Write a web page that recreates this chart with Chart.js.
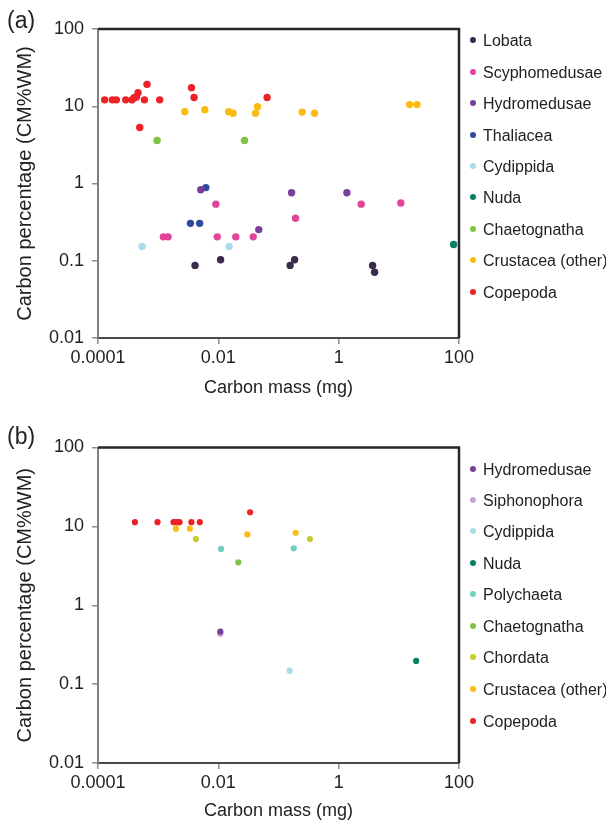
<!DOCTYPE html>
<html>
<head>
<meta charset="utf-8">
<script src="https://cdn.jsdelivr.net/npm/chart.js@4/dist/chart.umd.min.js"></script>
<style>
  body { margin: 0; background: #fff; font-family: "Liberation Sans", Arial, sans-serif; }
  #wrap { position: relative; width: 606px; height: 828px; }
  canvas { position: absolute; left: 0; }
  .tag { position: absolute; left: 7px; font-size: 23px; color: #222; line-height: 1; }
  .leg { position: absolute; left: 470px; font-size: 16px; color: #222; line-height: 1; white-space: nowrap; }
  .leg span { display: inline-block; width: 6px; height: 6px; border-radius: 50%; margin-right: 7px; vertical-align: middle; position: relative; top: -2px; }
</style>
</head>
<body>
<div id="wrap">
  <canvas id="chartA" width="606" height="414" style="top:0"></canvas>
  <canvas id="chartB" width="606" height="414" style="top:414px"></canvas>
  <div class="tag" style="top:9px">(a)</div>
  <div class="tag" style="top:425px">(b)</div>
</div>
<script>
// axis ticks
var xTicks = [0.0001, 0.01, 1, 100];
var xTickLabels = ["0.0001", "0.01", "1", "100"];
var yTicks = [0.01, 0.1, 1, 10, 100];
var yTickLabels = ["0.01", "0.1", "1", "10", "100"];

// colours per taxon
var colors = {
  "Lobata": "#3a2b4d",
  "Scyphomedusae": "#e2449a",
  "Hydromedusae": "#7a3f9d",
  "Siphonophora": "#c9a3d4",
  "Thaliacea": "#2f4aa0",
  "Cydippida": "#a9dbea",
  "Nuda": "#0b7d65",
  "Polychaeta": "#74cfc1",
  "Chaetognatha": "#80c242",
  "Chordata": "#c6cb2e",
  "Crustacea (other)": "#fbbb14",
  "Copepoda": "#ec2227"
};

// panel (a): carbon mass (mg), carbon percentage
var aLobata = [[0.0041, 0.087], [0.0109, 0.103], [0.156, 0.087], [0.185, 0.103], [3.66, 0.087], [3.96, 0.071]];
var aScypho = [[0.00122, 0.204], [0.00146, 0.204], [0.0091, 0.54], [0.0096, 0.204], [0.0195, 0.204], [0.038, 0.204], [0.192, 0.355], [2.37, 0.54], [10.8, 0.56]];
var aHydro = [[0.0051, 0.83], [0.047, 0.253], [0.165, 0.76], [1.37, 0.76]];
var aThalia = [[0.0062, 0.885], [0.00344, 0.305], [0.0049, 0.305]];
var aCydip = [[0.00054, 0.153], [0.0151, 0.153]];
var aNuda = [[81.5, 0.162]];
var aChaeto = [[0.00096, 3.6], [0.0272, 3.6]];
var aCrust = [[0.00277, 8.5], [0.00596, 9.0], [0.0148, 8.5], [0.0176, 8.1], [0.0415, 8.1], [0.0448, 9.9], [0.247, 8.4], [0.397, 8.1], [15.1, 10.5], [20.0, 10.5]];
var aCope = [[0.000129, 12.1], [0.000173, 12.1], [0.000202, 12.1], [0.000289, 12.1], [0.000368, 12.1], [0.000397, 12.9], [0.000435, 13.2], [0.000463, 15.0], [0.000591, 12.1], [0.000653, 19.2], [0.00106, 12.1], [0.000494, 5.3], [0.00358, 17.4], [0.00395, 13.0], [0.0647, 13.0]];

// panel (b)
var bHydro = [[0.0108, 0.462]];
var bSipho = [[0.0108, 0.436]];
var bCydip = [[0.153, 0.148]];
var bNuda = [[19.4, 0.197]];
var bPoly = [[0.0111, 5.17], [0.179, 5.27]];
var bChaeto = [[0.0215, 3.5]];
var bChord = [[0.00423, 6.9], [0.333, 6.9]];
var bCrust = [[0.00197, 9.35], [0.00336, 9.35], [0.0303, 7.9], [0.193, 8.3]];
var bCope = [[0.000411, 11.3], [0.000975, 11.3], [0.0018, 11.3], [0.00199, 11.3], [0.00212, 11.3], [0.00226, 11.3], [0.00357, 11.3], [0.00492, 11.3], [0.0337, 15.1]];

var seriesA = [
  ["Lobata", aLobata], ["Scyphomedusae", aScypho], ["Hydromedusae", aHydro],
  ["Thaliacea", aThalia], ["Cydippida", aCydip], ["Nuda", aNuda],
  ["Chaetognatha", aChaeto], ["Crustacea (other)", aCrust], ["Copepoda", aCope]
];
var seriesB = [
  ["Hydromedusae", bHydro], ["Siphonophora", bSipho], ["Cydippida", bCydip],
  ["Nuda", bNuda], ["Polychaeta", bPoly], ["Chaetognatha", bChaeto],
  ["Chordata", bChord], ["Crustacea (other)", bCrust], ["Copepoda", bCope]
];

var font = "'Liberation Sans', Arial, sans-serif";

// top and right frame lines
var framePlugin = {
  id: "frame",
  afterDraw: function(chart) {
    var a = chart.chartArea, c = chart.ctx;
    c.save();
    c.strokeStyle = "#262626";
    c.lineWidth = 2.5;
    c.beginPath();
    c.moveTo(a.left, a.top);
    c.lineTo(a.right, a.top);
    c.lineTo(a.right, a.bottom);
    c.stroke();
    c.restore();
  }
};

function makeChart(id, series, radius, lay) {
  var datasets = series.map(function(s) {
    return {
      label: s[0],
      data: s[1].map(function(p) { return { x: p[0], y: p[1] }; }),
      backgroundColor: colors[s[0]],
      borderWidth: 0,
      pointRadius: radius,
      pointHoverRadius: radius
    };
  });

  return new Chart(document.getElementById(id), {
    type: "scatter",
    data: { datasets: datasets },
    plugins: [framePlugin],
    options: {
      responsive: false,
      animation: false,
      layout: { padding: { top: lay.top, right: 147, bottom: 0, left: 0 } },
      plugins: { legend: { display: false }, tooltip: { enabled: false } },
      scales: {
        x: {
          type: "logarithmic",
          min: 0.0001,
          max: 100,
          afterBuildTicks: function(s) { s.ticks = xTicks.map(function(v) { return { value: v }; }); },
          afterFit: function(s) { s.height = lay.xh; },
          ticks: {
            autoSkip: false, maxRotation: 0, padding: 3,
            color: "#222", font: { family: font, size: 18 },
            callback: function(v, i) { return xTickLabels[i]; }
          },
          grid: { drawOnChartArea: false, tickLength: 6, color: "#8c8c8c", lineWidth: 1.5 },
          border: { color: "#4a4a4a", width: 2 },
          title: {
            display: true, text: "Carbon mass (mg)", color: "#222",
            font: { family: font, size: 18 }, padding: { top: 0, bottom: lay.xtp }
          }
        },
        y: {
          type: "logarithmic",
          min: 0.01,
          max: 100,
          afterBuildTicks: function(s) { s.ticks = yTicks.map(function(v) { return { value: v }; }); },
          afterFit: function(s) { s.width = 98; },
          ticks: {
            autoSkip: false, padding: 8,
            color: "#222", font: { family: font, size: 18 },
            callback: function(v, i) { return yTickLabels[i]; }
          },
          grid: { drawOnChartArea: false, tickLength: 6, color: "#8c8c8c", lineWidth: 1.5 },
          border: { color: "#808080", width: 2 },
          title: {
            display: true, text: "Carbon percentage (CM%WM)", color: "#222",
            font: { family: font, size: 20 }, padding: { top: 13, bottom: 0 }
          }
        }
      }
    }
  });
}

makeChart("chartA", seriesA, 3.7, { top: 29, xh: 76, xtp: 15 });
makeChart("chartB", seriesB, 3.1, { top: 33.5, xh: 65, xtp: 6 });

// legends built from the same series lists
function makeLegend(series, centers) {
  var wrap = document.getElementById("wrap");
  series.forEach(function(s, i) {
    var d = document.createElement("div");
    d.className = "leg";
    d.style.top = (centers[i] - 8) + "px";
    var dot = document.createElement("span");
    dot.style.background = colors[s[0]];
    d.appendChild(dot);
    d.appendChild(document.createTextNode(s[0]));
    wrap.appendChild(d);
  });
}
var legA = [41, 73, 104, 136, 167, 198, 230, 261, 293];
var legB = [470, 501, 532, 564, 595, 627, 658, 690, 722];
makeLegend(seriesA, legA);
makeLegend(seriesB, legB);
</script>
</body>
</html>
